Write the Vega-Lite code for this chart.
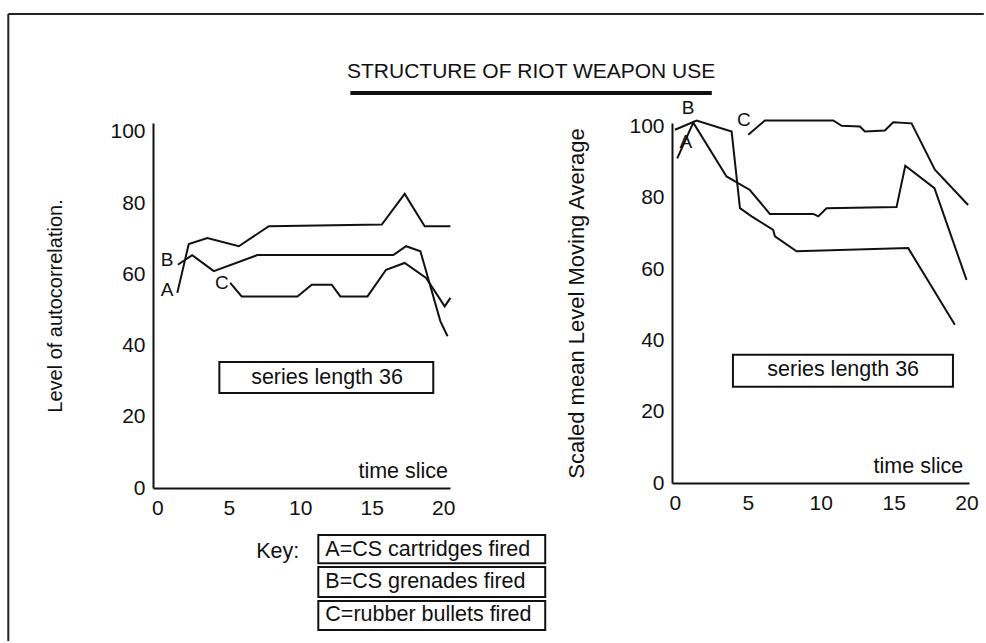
{
  "$schema": "https://vega.github.io/schema/vega-lite/v6.json",
  "padding": {"left": 7, "top": 13, "right": 0, "bottom": 0},
  "autosize": {"type": "pad"},
  "bounds": "flush",
  "spacing": 222,
  "background": "white",
  "config": {
    "view": {"stroke": null},
    "font": "Liberation Sans",
    "axis": {
      "grid": false,
      "ticks": false,
      "domainColor": "#111",
      "domainWidth": 2,
      "labelFont": "Liberation Sans",
      "labelFontSize": 21,
      "labelColor": "#111",
      "titleFont": "Liberation Sans",
      "titleFontSize": 20,
      "titleFontWeight": "normal",
      "titleColor": "#111"
    },
    "text": {"font": "Liberation Sans", "color": "#111"}
  },
  "datasets": {
    "leftLines": [
      {"series": "A", "i": 0, "x": 1.4, "y": 54.8},
      {"series": "A", "i": 1, "x": 2.2, "y": 68.5},
      {"series": "A", "i": 2, "x": 3.5, "y": 70.2},
      {"series": "A", "i": 3, "x": 5.7, "y": 67.9},
      {"series": "A", "i": 4, "x": 7.8, "y": 73.5},
      {"series": "A", "i": 5, "x": 15.7, "y": 74.0},
      {"series": "A", "i": 6, "x": 17.3, "y": 82.6},
      {"series": "A", "i": 7, "x": 18.7, "y": 73.5},
      {"series": "A", "i": 8, "x": 20.5, "y": 73.5},
      {"series": "B", "i": 0, "x": 1.44, "y": 62.7},
      {"series": "B", "i": 1, "x": 2.44, "y": 65.4},
      {"series": "B", "i": 2, "x": 3.95, "y": 60.9},
      {"series": "B", "i": 3, "x": 7.0, "y": 65.4},
      {"series": "B", "i": 4, "x": 16.5, "y": 65.4},
      {"series": "B", "i": 5, "x": 17.4, "y": 67.9},
      {"series": "B", "i": 6, "x": 18.4, "y": 66.5},
      {"series": "B", "i": 7, "x": 19.8, "y": 46.8},
      {"series": "B", "i": 8, "x": 20.3, "y": 42.6},
      {"series": "C", "i": 0, "x": 5.1, "y": 57.6},
      {"series": "C", "i": 1, "x": 5.9, "y": 53.8},
      {"series": "C", "i": 2, "x": 9.8, "y": 53.8},
      {"series": "C", "i": 3, "x": 10.8, "y": 57.1},
      {"series": "C", "i": 4, "x": 12.2, "y": 57.1},
      {"series": "C", "i": 5, "x": 12.8, "y": 53.8},
      {"series": "C", "i": 6, "x": 14.7, "y": 53.8},
      {"series": "C", "i": 7, "x": 16.0, "y": 61.3},
      {"series": "C", "i": 8, "x": 17.3, "y": 63.2},
      {"series": "C", "i": 9, "x": 18.8, "y": 59.0},
      {"series": "C", "i": 10, "x": 20.1, "y": 51.0},
      {"series": "C", "i": 11, "x": 20.5, "y": 53.4}
    ],
    "rightLines": [
      {"series": "B", "i": 0, "x": 0.0, "y": 99.1},
      {"series": "B", "i": 1, "x": 1.49, "y": 101.7},
      {"series": "B", "i": 2, "x": 3.89, "y": 98.6},
      {"series": "B", "i": 3, "x": 4.46, "y": 77.1},
      {"series": "B", "i": 4, "x": 5.26, "y": 74.8},
      {"series": "B", "i": 5, "x": 6.74, "y": 71.0},
      {"series": "B", "i": 6, "x": 6.86, "y": 69.2},
      {"series": "B", "i": 7, "x": 8.34, "y": 65.0},
      {"series": "B", "i": 8, "x": 16.0, "y": 65.9},
      {"series": "B", "i": 9, "x": 19.2, "y": 44.4},
      {"series": "A", "i": 0, "x": 0.16, "y": 91.1},
      {"series": "A", "i": 1, "x": 1.26, "y": 101.1},
      {"series": "A", "i": 2, "x": 3.54, "y": 86.0},
      {"series": "A", "i": 3, "x": 5.14, "y": 82.2},
      {"series": "A", "i": 4, "x": 6.51, "y": 75.5},
      {"series": "A", "i": 5, "x": 9.49, "y": 75.5},
      {"series": "A", "i": 6, "x": 9.83, "y": 74.8},
      {"series": "A", "i": 7, "x": 10.4, "y": 77.1},
      {"series": "A", "i": 8, "x": 15.2, "y": 77.4},
      {"series": "A", "i": 9, "x": 15.8, "y": 89.0},
      {"series": "A", "i": 10, "x": 17.8, "y": 82.7},
      {"series": "A", "i": 11, "x": 20.0, "y": 57.0},
      {"series": "C", "i": 0, "x": 5.03, "y": 97.7},
      {"series": "C", "i": 1, "x": 6.17, "y": 101.7},
      {"series": "C", "i": 2, "x": 10.86, "y": 101.7},
      {"series": "C", "i": 3, "x": 11.43, "y": 100.2},
      {"series": "C", "i": 4, "x": 12.69, "y": 100.0},
      {"series": "C", "i": 5, "x": 13.03, "y": 98.6},
      {"series": "C", "i": 6, "x": 14.4, "y": 98.9},
      {"series": "C", "i": 7, "x": 14.97, "y": 101.2},
      {"series": "C", "i": 8, "x": 16.23, "y": 100.9},
      {"series": "C", "i": 9, "x": 17.83, "y": 87.9},
      {"series": "C", "i": 10, "x": 20.11, "y": 78.0}
    ],
    "leftLetters": [
      {"label": "B", "x": 0.68, "y": 64.0},
      {"label": "A", "x": 0.68, "y": 55.6},
      {"label": "C", "x": 4.52, "y": 57.5}
    ],
    "rightLetters": [
      {"label": "B", "x": 0.91, "y": 105.2},
      {"label": "A", "x": 0.75, "y": 95.8},
      {"label": "C", "x": 4.72, "y": 101.9}
    ],
    "leftNotes": [
      {"label": "series length 36", "x": 11.87, "y": 30.9},
      {"label": "time slice", "x": 17.2, "y": 4.5}
    ],
    "rightNotes": [
      {"label": "series length 36", "x": 11.54, "y": 31.8},
      {"label": "time slice", "x": 16.7, "y": 4.6}
    ],
    "leftBoxes": [
      {"box": "series", "x": 4.34, "x2": 19.3, "y": 35.4, "y2": 26.7},
      {"box": "keyA", "x": 11.26, "x2": 27.13, "y": -13.2, "y2": -21.1},
      {"box": "keyB", "x": 11.26, "x2": 27.13, "y": -22.2, "y2": -30.6},
      {"box": "keyC", "x": 11.26, "x2": 27.13, "y": -31.7, "y2": -39.9}
    ],
    "rightBoxes": [
      {"box": "series", "x": 3.98, "x2": 19.07, "y": 36.0, "y2": 27.0}
    ],
    "keyLabels": [
      {"label": "Key:", "x": 6.92, "y": -18.0},
      {"label": "A=CS cartridges fired", "x": 11.75, "y": -17.4},
      {"label": "B=CS grenades fired", "x": 11.75, "y": -26.4},
      {"label": "C=rubber bullets fired", "x": 11.75, "y": -35.7}
    ],
    "frame": [
      {"edge": "left", "x": -10.42, "x2": -10.42, "y": 133.1, "y2": -43.0},
      {"edge": "top", "x": -10.42, "x2": 57.8, "y": 133.1, "y2": 133.1}
    ],
    "heading": [
      {"label": "STRUCTURE OF RIOT WEAPON USE", "x": -9.86, "y": 115.3}
    ],
    "underline": [
      {"x": -22.26, "x2": 2.53, "y": 109.4, "y2": 109.4}
    ]
  },
  "hconcat": [
    {
      "width": 297,
      "height": 365,
      "encoding": {
        "x": {
          "field": "x", "type": "quantitative",
          "scale": {"domain": [-0.3, 20.47], "nice": false, "zero": false},
          "axis": {"values": [0, 5, 10, 15, 20], "title": null, "labelPadding": 9, "labelFlush": false}
        },
        "y": {
          "field": "y", "type": "quantitative",
          "scale": {"domain": [0, 102.5], "nice": false, "zero": false},
          "axis": {"values": [0, 20, 40, 60, 80, 100], "title": "Level of autocorrelation.", "labelPadding": 8, "titlePadding": 44, "labelFlush": false}
        }
      },
      "layer": [
        {
          "data": {"name": "frame"},
          "mark": {"type": "rule", "color": "#222", "strokeWidth": 2},
          "encoding": {"x2": {"field": "x2"}, "y2": {"field": "y2"}}
        },
        {
          "data": {"name": "leftBoxes"},
          "mark": {"type": "rect", "fill": "white", "stroke": "#111", "strokeWidth": 2},
          "encoding": {"x2": {"field": "x2"}, "y2": {"field": "y2"}}
        },
        {
          "data": {"name": "leftLines"},
          "mark": {"type": "line", "color": "#111", "strokeWidth": 2},
          "encoding": {"detail": {"field": "series"}, "order": {"field": "i", "type": "quantitative"}}
        },
        {
          "data": {"name": "leftLetters"},
          "mark": {"type": "text", "fontSize": 19, "align": "center", "baseline": "middle"},
          "encoding": {"text": {"field": "label"}}
        },
        {
          "data": {"name": "leftNotes"},
          "mark": {"type": "text", "fontSize": 21.5, "align": "center", "baseline": "middle"},
          "encoding": {"text": {"field": "label"}}
        },
        {
          "data": {"name": "keyLabels"},
          "mark": {"type": "text", "fontSize": 21.5, "align": "left", "baseline": "middle"},
          "encoding": {"text": {"field": "label"}}
        }
      ]
    },
    {
      "width": 297,
      "height": 360,
      "encoding": {
        "x": {
          "field": "x", "type": "quantitative",
          "scale": {"domain": [-0.2, 20.17], "nice": false, "zero": false},
          "axis": {"values": [0, 5, 10, 15, 20], "title": null, "labelPadding": 9, "labelFlush": false}
        },
        "y": {
          "field": "y", "type": "quantitative",
          "scale": {"domain": [0, 101], "nice": false, "zero": false},
          "axis": {"values": [0, 20, 40, 60, 80, 100], "title": "Scaled mean Level Moving Average", "labelPadding": 8, "titlePadding": 40, "titleFontSize": 22, "labelFlush": false}
        }
      },
      "layer": [
        {
          "data": {"name": "underline"},
          "mark": {"type": "rule", "color": "#111", "strokeWidth": 4},
          "encoding": {"x2": {"field": "x2"}, "y2": {"field": "y2"}}
        },
        {
          "data": {"name": "heading"},
          "mark": {"type": "text", "fontSize": 21, "align": "center", "baseline": "middle"},
          "encoding": {"text": {"field": "label"}}
        },
        {
          "data": {"name": "rightBoxes"},
          "mark": {"type": "rect", "fill": "white", "stroke": "#111", "strokeWidth": 2},
          "encoding": {"x2": {"field": "x2"}, "y2": {"field": "y2"}}
        },
        {
          "data": {"name": "rightLines"},
          "mark": {"type": "line", "color": "#111", "strokeWidth": 2},
          "encoding": {"detail": {"field": "series"}, "order": {"field": "i", "type": "quantitative"}}
        },
        {
          "data": {"name": "rightLetters"},
          "mark": {"type": "text", "fontSize": 19, "align": "center", "baseline": "middle"},
          "encoding": {"text": {"field": "label"}}
        },
        {
          "data": {"name": "rightNotes"},
          "mark": {"type": "text", "fontSize": 21.5, "align": "center", "baseline": "middle"},
          "encoding": {"text": {"field": "label"}}
        }
      ]
    }
  ]
}
